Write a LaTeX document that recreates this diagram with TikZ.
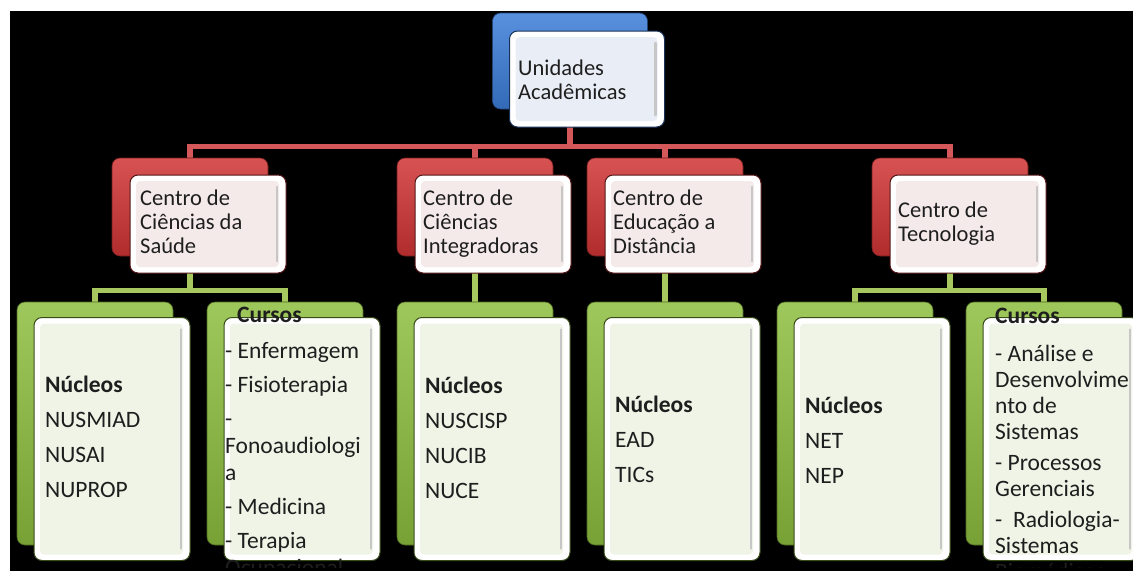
\documentclass[tikz,border=0pt]{standalone}
\usepackage{fontspec}
\setmainfont{Carlito}
\usetikzlibrary{calc}
\pgfdeclarelayer{bg}
\pgfdeclarelayer{lines}
\pgfsetlayers{bg,lines,main}
\definecolor{accB}{HTML}{3C7DD9}
\definecolor{accR}{HTML}{D03434}
\definecolor{accG}{HTML}{8DBE3E}
\definecolor{lineR}{HTML}{D4585A}
\definecolor{lineG}{HTML}{A6C85E}
\definecolor{tintB}{HTML}{E9EEF6}
\definecolor{tintR}{HTML}{F5EAEA}
\definecolor{tintG}{HTML}{EFF4E6}
\definecolor{txt}{HTML}{1E1E1E}
\newcommand{\boxlines}[1]{\begin{tabular}[t]{@{}l@{}}#1\end{tabular}}
\begin{document}
\begin{tikzpicture}[x=1pt,y=-1pt,
  backbox/.style={rectangle, rounded corners=8pt, inner sep=0pt,
    draw=#1!55!black, line width=0.6pt, top color=#1!85!white, bottom color=#1!85!black},
  frontbox/.style 2 args={rectangle, rounded corners=8pt, inner sep=0pt,
    draw=#1!40!black, line width=1pt, fill=white,
    path picture={
      \fill[#2, rounded corners=4pt]
        ([shift={(6pt,-6pt)}]path picture bounding box.north west) rectangle
        ([shift={(-7pt,6pt)}]path picture bounding box.south east);
      \draw[black!22, line width=2.5pt, line cap=round]
        ([shift={(-9pt,-12pt)}]path picture bounding box.north east) --
        ([shift={(-9pt,12pt)}]path picture bounding box.south east);
    }},
  lvlA/.style={minimum width=155pt, minimum height=96pt},
  lvlB/.style={minimum width=156pt, minimum height=98pt},
  lvlC/.style={minimum width=156pt, minimum height=243pt},
  redline/.style={draw=lineR, line width=5.5pt},
  greenline/.style={draw=lineG, line width=5.5pt},
  txtU/.style={anchor=base west, inner sep=0pt, text=txt, font=\fontsize{22.5}{24}\selectfont},
  txtL/.style={anchor=base west, inner sep=0pt, text=txt, font=\fontsize{23.5}{27}\selectfont},
  txtM/.style={anchor=base west, inner sep=0pt, text=txt, font=\fontsize{23.5}{26}\selectfont}
]
\useasboundingbox (0,0) rectangle (1133,571);
\begin{pgfonlayer}{bg}
  \fill[white] (0,0) rectangle (1133,571);
  \fill[black] (10,11) rectangle (1133,571);
\end{pgfonlayer}

% top
\node[backbox=accB, lvlA] (tb) at (570,61) {};
\node[frontbox={accB}{tintB}, lvlA] (tf) at (587,79) {};

% level 1 (red)
\node[backbox=accR, lvlB] (r1b) at (190,207) {};
\node[frontbox={accR}{tintR}, lvlB] (r1) at (208,224) {};
\node[backbox=accR, lvlB] (r2b) at (475,207) {};
\node[frontbox={accR}{tintR}, lvlB] (r2) at (493,224) {};
\node[backbox=accR, lvlB] (r3b) at (665,207) {};
\node[frontbox={accR}{tintR}, lvlB] (r3) at (683,224) {};
\node[backbox=accR, lvlB] (r4b) at (950,207) {};
\node[frontbox={accR}{tintR}, lvlB] (r4) at (968,224) {};

% level 2 (green)
\node[backbox=accG, lvlC] (g1b) at (95,423.5) {};
\node[frontbox={accG}{tintG}, lvlC] (g1) at (112,439) {};
\node[backbox=accG, lvlC] (g2b) at (285,423.5) {};
\node[frontbox={accG}{tintG}, lvlC] (g2) at (302,439) {};
\node[backbox=accG, lvlC] (g3b) at (475,423.5) {};
\node[frontbox={accG}{tintG}, lvlC] (g3) at (492,439) {};
\node[backbox=accG, lvlC] (g4b) at (665,423.5) {};
\node[frontbox={accG}{tintG}, lvlC] (g4) at (682,439) {};
\node[backbox=accG, lvlC] (g5b) at (855,423.5) {};
\node[frontbox={accG}{tintG}, lvlC] (g5) at (872,439) {};
\node[backbox=accG, lvlC] (g6b) at (1044,423.5) {};
\node[frontbox={accG}{tintG}, lvlC] (g6) at (1061,439) {};

% connectors
\begin{pgfonlayer}{lines}
  \foreach \r in {r1b,r2b,r3b,r4b}
    \draw[redline] (tb.south) -- ++(0,37) -| (\r.north);
  \draw[greenline] (r1b.south) -- ++(0,34) -| (g1b.north);
  \draw[greenline] (r1b.south) -- ++(0,34) -| (g2b.north);
  \draw[greenline] (r2b.south) -- (g3b.north);
  \draw[greenline] (r3b.south) -- (g4b.north);
  \draw[greenline] (r4b.south) -- ++(0,34) -| (g5b.north);
  \draw[greenline] (r4b.south) -- ++(0,34) -| (g6b.north);
\end{pgfonlayer}

% texts
\node[txtU] (t0) at (518,75) {\boxlines{Unidades\\Acadêmicas}};
\node[txtU] (t1) at (140,205) {\boxlines{Centro de\\Ciências da\\Saúde}};
\node[txtU] (t2) at (423,205) {\boxlines{Centro de\\Ciências\\Integradoras}};
\node[txtU] (t3) at (613,205) {\boxlines{Centro de\\Educação a\\Distância}};
\node[txtU] (t4) at (898,217) {\boxlines{Centro de\\Tecnologia}};

\begin{scope}
  \clip (0,0) rectangle (1133,567);
  \node[txtL] (n1) at (45,392) {\boxlines{\textbf{Núcleos}\\[8pt] NUSMIAD\\[8pt] NUSAI\\[8pt] NUPROP}};
  \node[txtL] (n2) at (225,322) {\boxlines{\hspace*{12pt}\textbf{Cursos}\\[9pt] - Enfermagem\\[7pt] - Fisioterapia\\[7pt] -\\ Fonoaudiologi\\ a\\[7pt] - Medicina\\[7pt] - Terapia\\ Ocupacional}};
  \node[txtL] (n3) at (425,393) {\boxlines{\textbf{Núcleos}\\[8pt] NUSCISP\\[8pt] NUCIB\\[8pt] NUCE}};
  \node[txtL] (n4) at (615,412) {\boxlines{\textbf{Núcleos}\\[8pt] EAD\\[8pt] TICs}};
  \node[txtL] (n5) at (805,413) {\boxlines{\textbf{Núcleos}\\[8pt] NET\\[8pt] NEP}};
  \node[txtM] (n6) at (995,323) {\boxlines{\textbf{Cursos}\\[12pt] - Análise e\\ Desenvolvime\\ nto de\\ Sistemas\\[5pt] - Processos\\ Gerenciais\\[5pt] -\ \ Radiologia-\\ Sistemas\\ Biomédicos}};
\end{scope}
\end{tikzpicture}
\end{document}
